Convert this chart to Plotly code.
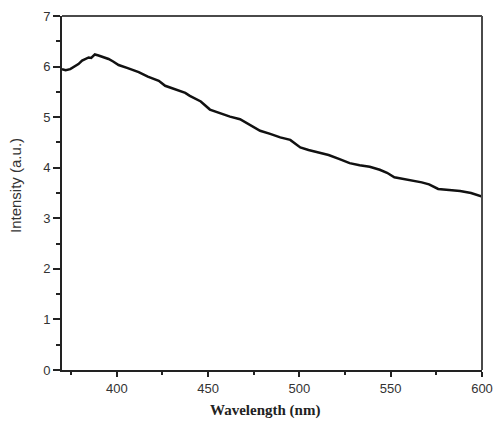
import plotly.graph_objects as go

wavelength = [370, 372, 374.5, 377, 379, 381, 383, 384.6, 386, 388, 390, 392, 394, 395.5, 398, 401,
              406, 412, 417, 423, 426.5, 432, 435, 437.5, 440, 446, 451, 456.5, 462, 467.5, 473,
              478.5, 484, 489.5, 495, 500.5, 505, 511, 516, 522, 527.5, 533, 538.5, 544, 548,
              552, 557, 563, 567, 571, 576, 582, 588, 594, 598, 600]
intensity = [5.95, 5.93, 5.95, 6.00, 6.05, 6.12, 6.15, 6.18, 6.17, 6.24, 6.22, 6.20, 6.18, 6.15, 6.10, 6.03,
             5.97, 5.89, 5.80, 5.72, 5.62, 5.55, 5.52, 5.48, 5.42, 5.31, 5.15, 5.08, 5.01, 4.96, 4.84,
             4.73, 4.67, 4.60, 4.55, 4.40, 4.35, 4.29, 4.25, 4.17, 4.09, 4.05, 4.02, 3.96, 3.90,
             3.81, 3.78, 3.74, 3.71, 3.67, 3.58, 3.56, 3.54, 3.50, 3.46, 3.43]

x_ticks = [400, 450, 500, 550, 600]
y_ticks = [0, 1, 2, 3, 4, 5, 6, 7]
x_title = "Wavelength (nm)"
y_title = "Intensity (a.u.)"

fig = go.Figure()
fig.add_trace(go.Scatter(x=wavelength, y=intensity, mode="lines",
                         line=dict(color="#111111", width=2.5), showlegend=False))

axis_common = dict(
    showgrid=False, zeroline=False, showline=True, linecolor="#222222", linewidth=2,
    mirror=False, ticks="outside", tickcolor="#222222", tickwidth=1.5, automargin=False,
    tickfont=dict(family="Liberation Sans, Arial, sans-serif", size=13, color="#333333"),
)

fig.update_xaxes(range=[370, 600], tickvals=x_ticks, ticklen=5,
                 minor=dict(dtick=25, tick0=375, ticks="outside", ticklen=3, tickcolor="#222222", tickwidth=1.5),
                 **axis_common)
fig.update_yaxes(range=[0, 7], tickvals=y_ticks, ticklen=7,
                 minor=dict(dtick=0.5, tick0=0, ticks="outside", ticklen=4, tickcolor="#222222", tickwidth=1.5),
                 **axis_common)

# axis titles placed as annotations to match the reference positions
fig.add_annotation(text="<b>" + x_title + "</b>", xref="paper", yref="paper", x=0.5, y=0,
                   xanchor="center", yanchor="middle", xshift=-7, yshift=-40, showarrow=False,
                   font=dict(family="Liberation Serif, Times New Roman, serif", size=15, color="#222222"))
fig.add_annotation(text=y_title, xref="paper", yref="paper", x=0, y=0.5, textangle=-90,
                   xanchor="center", yanchor="middle", xshift=-47, yshift=7, showarrow=False,
                   font=dict(family="Liberation Sans, Arial, sans-serif", size=15, color="#333333"))

# grey top and right frame lines
fig.add_shape(type="line", xref="paper", yref="paper", x0=0, x1=1, y0=1, y1=1,
              line=dict(color="#4a4a4a", width=2))
fig.add_shape(type="line", xref="paper", yref="paper", x0=1, x1=1, y0=0, y1=1,
              line=dict(color="#4a4a4a", width=2))

fig.update_layout(width=494, height=424, margin=dict(l=62, r=12, t=16, b=54),
                  plot_bgcolor="white", paper_bgcolor="white")

# remove the browser's default body margin so the figure sits at the page corner
fig.write_html("out.html", config={"displayModeBar": False},
               post_script="document.body.style.margin='0';document.body.style.overflow='hidden';")
